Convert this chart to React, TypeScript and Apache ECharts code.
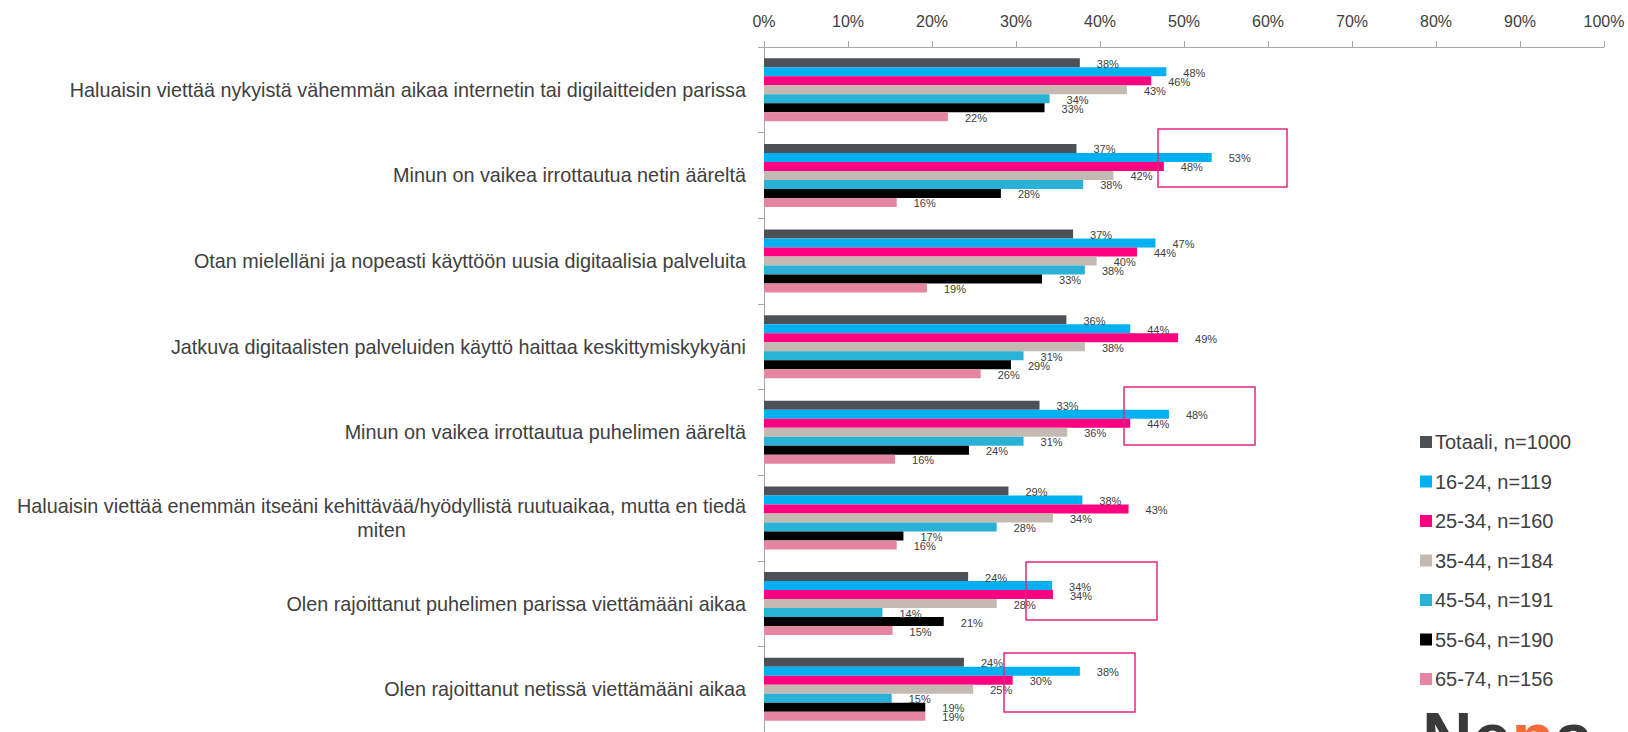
import React, { useEffect, useRef } from "react";
import * as echarts from "echarts";

const categories = [
  "Haluaisin viettää nykyistä vähemmän aikaa internetin tai digilaitteiden parissa",
  "Minun on vaikea irrottautua netin ääreltä",
  "Otan mielelläni ja nopeasti käyttöön uusia digitaalisia palveluita",
  "Jatkuva digitaalisten palveluiden käyttö haittaa keskittymiskykyäni",
  "Minun on vaikea irrottautua puhelimen ääreltä",
  "Haluaisin viettää enemmän itseäni kehittävää/hyödyllistä ruutuaikaa, mutta en tiedä\nmiten",
  "Olen rajoittanut puhelimen parissa viettämääni aikaa",
  "Olen rajoittanut netissä viettämääni aikaa",
];

const seriesNames = [
  "Totaali, n=1000",
  "16-24, n=119",
  "25-34, n=160",
  "35-44, n=184",
  "45-54, n=191",
  "55-64, n=190",
  "65-74, n=156",
];

const totaali = [37.6, 37.2, 36.8, 36.0, 32.8, 29.1, 24.3, 23.8];
const age16_24 = [47.9, 53.3, 46.6, 43.6, 48.2, 37.9, 34.3, 37.6];
const age25_34 = [46.1, 47.6, 44.4, 49.3, 43.6, 43.4, 34.4, 29.6];
const age35_44 = [43.2, 41.6, 39.6, 38.2, 36.1, 34.4, 27.7, 24.9];
const age45_54 = [34.0, 38.0, 38.2, 30.9, 30.9, 27.7, 14.1, 15.2];
const age55_64 = [33.4, 28.2, 33.1, 29.4, 24.4, 16.6, 21.4, 19.2];
const age65_74 = [21.9, 15.8, 19.4, 25.8, 15.6, 15.8, 15.3, 19.2];

const xTicks = [0, 10, 20, 30, 40, 50, 60, 70, 80, 90, 100];

const seriesValues = [totaali, age16_24, age25_34, age35_44, age45_54, age55_64, age65_74];
const colors = ["#4D5157", "#00B0F0", "#FF0080", "#C4BAB2", "#29B2D6", "#000000", "#E585A1"];

const FONT = '"Liberation Sans", Arial, sans-serif';
const TEXT = "#404040";

export default function App() {
  const ref = useRef<HTMLDivElement>(null);
  useEffect(() => {
    if (!ref.current) return;
    const chart = echarts.init(ref.current, undefined, { renderer: "svg" });
    const boxes = [
      [1158, 129, 129, 58],
      [1124, 387, 131, 58],
      [1026, 562, 131, 58],
      [1004, 653, 131, 59],
    ];
    chart.setOption({
      animation: false,
      textStyle: { fontFamily: FONT },
      grid: { left: 764, right: 24, top: 47, height: 687 },
      legend: {
        orient: "vertical",
        left: 1415,
        top: 427,
        itemWidth: 12,
        itemHeight: 12,
        itemGap: 19.5,
        icon: "rect",
        data: seriesNames,
        textStyle: { fontFamily: FONT, fontSize: 20, color: TEXT, padding: [0, 0, 0, -2] },
      },
      xAxis: {
        type: "value",
        position: "top",
        min: 0,
        max: 100,
        interval: 10,
        axisLine: { show: true, lineStyle: { color: "#A6A6A6", width: 1 } },
        axisTick: { show: true, length: 6, lineStyle: { color: "#A6A6A6" } },
        splitLine: { show: false },
        axisLabel: {
          margin: 18,
          fontFamily: FONT,
          fontSize: 16,
          color: TEXT,
          formatter: (v: number) => (xTicks.includes(v) ? v + "%" : ""),
        },
      },
      yAxis: {
        type: "category",
        inverse: true,
        data: categories,
        axisLine: { show: true, lineStyle: { color: "#A6A6A6", width: 1 } },
        axisTick: { show: true, length: 6, lineStyle: { color: "#A6A6A6" } },
        axisLabel: {
          margin: 18,
          fontFamily: FONT,
          fontSize: 19.8,
          color: TEXT,
          formatter: (v: string) => {
            if (v.includes("\n")) {
              return v
                .split("\n")
                .map((s) => "{c|" + s + "}")
                .join("\n");
            }
            return v;
          },
          rich: {
            c: { align: "center", fontFamily: FONT, fontSize: 19.8, color: TEXT, lineHeight: 24 },
          },
        },
      },
      series: seriesNames.map((name, i) => ({
        name,
        type: "bar",
        data: seriesValues[i],
        barWidth: 9,
        barGap: "0%",
        itemStyle: { color: colors[i] },
        label: {
          show: true,
          position: "right",
          distance: 17,
          offset: [0, 1],
          fontFamily: FONT,
          fontSize: 11,
          color: TEXT,
          formatter: (p: any) => Math.round(p.value) + "%",
        },
      })),
      graphic: [
        ...boxes.map((b) => ({
          type: "rect",
          shape: { x: b[0], y: b[1], width: b[2], height: b[3] },
          style: { fill: "none", stroke: "#E2287F", lineWidth: 1.5 },
          z: 10,
        })),
        {
          type: "text",
          x: 1422,
          y: 703,
          style: {
            text: "{d|Ne}{o|p}{d|a}",
            rich: {
              d: { fontFamily: FONT, fontSize: 70, fontWeight: "bold", fill: "#3A3A3A" },
              o: { fontFamily: FONT, fontSize: 70, fontWeight: "bold", fill: "#F26A36" },
            },
            verticalAlign: "top",
          },
        },
      ],
    });
    return () => chart.dispose();
  }, []);
  return <div ref={ref} style={{ width: 1628, height: 732, position: "absolute", left: 0, top: 0 }} />;
}
